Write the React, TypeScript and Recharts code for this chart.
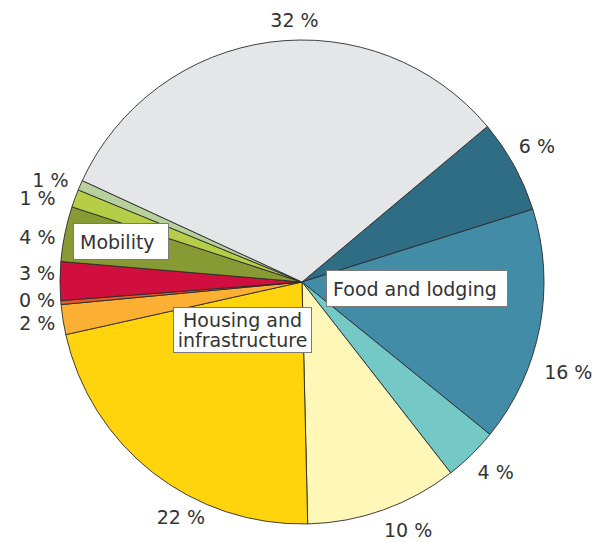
import { Cell, Pie, PieChart } from "recharts";

// slices, clockwise from the top right
const categories = [
  "Food: meat and dairy",
  "Food: other",
  "Lodging",
  "Housing: energy",
  "Housing: other",
  "Housing: water",
  "Housing: waste",
  "Mobility: cars",
  "Mobility: fuel",
  "Mobility: public transport",
  "Mobility: air",
  "Other",
];
const shares = [6.25, 15.7, 3.62, 10.16, 21.88, 2.0, 0.26, 2.58, 3.67, 1.19, 0.67, 32.0];
const shareLabels = ["6 %", "16 %", "4 %", "10 %", "22 %", "2 %", "0 %", "3 %", "4 %", "1 %", "1 %", "32 %"];

const COLORS = [
  "#2e6d84",
  "#428ca7",
  "#74c9c7",
  "#fff7b8",
  "#ffd40c",
  "#fbb034",
  "#e45a25",
  "#d10f3f",
  "#889a34",
  "#b5cd47",
  "#b8d19c",
  "#e5e6e8",
];

// small shifts for the percentage labels so they sit like the original
const LABEL_NUDGE: [number, number][] = [
  [0, -7], [3, 40], [6, -1], [16, -4], [44, 24], [0, -1],
  [2, -5], [3, -8], [-2, 8], [-13, 9], [-6, 5], [28, 4],
];

const data = categories.map((name, i) => ({ name, value: shares[i], label: shareLabels[i] }));

const RADIAN = Math.PI / 180;
const FONT = "'DejaVu Sans', Verdana, sans-serif";

const renderLabel = (props: any) => {
  const { cx, cy, midAngle, outerRadius, index } = props;
  const r = outerRadius + 26;
  const [dx, dy] = LABEL_NUDGE[index];
  const x = cx + r * Math.cos(-midAngle * RADIAN) + dx;
  const y = cy + r * Math.sin(-midAngle * RADIAN) + dy;
  return (
    <text
      x={x}
      y={y}
      fill="#333333"
      textAnchor="middle"
      dominantBaseline="central"
      fontSize={19}
      fontFamily={FONT}
    >
      {data[index].label}
    </text>
  );
};

const boxStyle = {
  position: "absolute" as const,
  background: "#ffffff",
  border: "1px solid #7a7a7a",
  boxSizing: "border-box" as const,
  color: "#333333",
  fontFamily: FONT,
  fontSize: 19,
  lineHeight: "20px",
  textAlign: "center" as const,
  display: "flex",
  alignItems: "center",
  justifyContent: "center",
};

const leftBox = { ...boxStyle, justifyContent: "flex-start", paddingLeft: 6 };

export default function App() {
  return (
    <div style={{ position: "absolute", left: 0, top: 0, width: 608, height: 542, background: "#ffffff" }}>
      <PieChart width={608} height={542} margin={{ top: 0, right: 0, bottom: 0, left: 0 }}>
        <Pie
          data={data}
          cx={302}
          cy={282}
          outerRadius={242}
          startAngle={40}
          endAngle={-320}
          dataKey="value"
          stroke="#2a2a2a"
          strokeWidth={0.9}
          label={renderLabel}
          labelLine={false}
          isAnimationActive={false}
        >
          {data.map((entry, index) => (
            <Cell key={`cell-${index}`} fill={COLORS[index % COLORS.length]} />
          ))}
        </Pie>
      </PieChart>
      <div style={{ ...leftBox, left: 73, top: 223, width: 96, height: 37 }}>Mobility</div>
      <div style={{ ...leftBox, left: 326, top: 270, width: 182, height: 37 }}>Food and lodging</div>
      <div style={{ ...boxStyle, left: 173, top: 307, width: 139, height: 46 }}>
        Housing and
        <br />
        infrastructure
      </div>
    </div>
  );
}
